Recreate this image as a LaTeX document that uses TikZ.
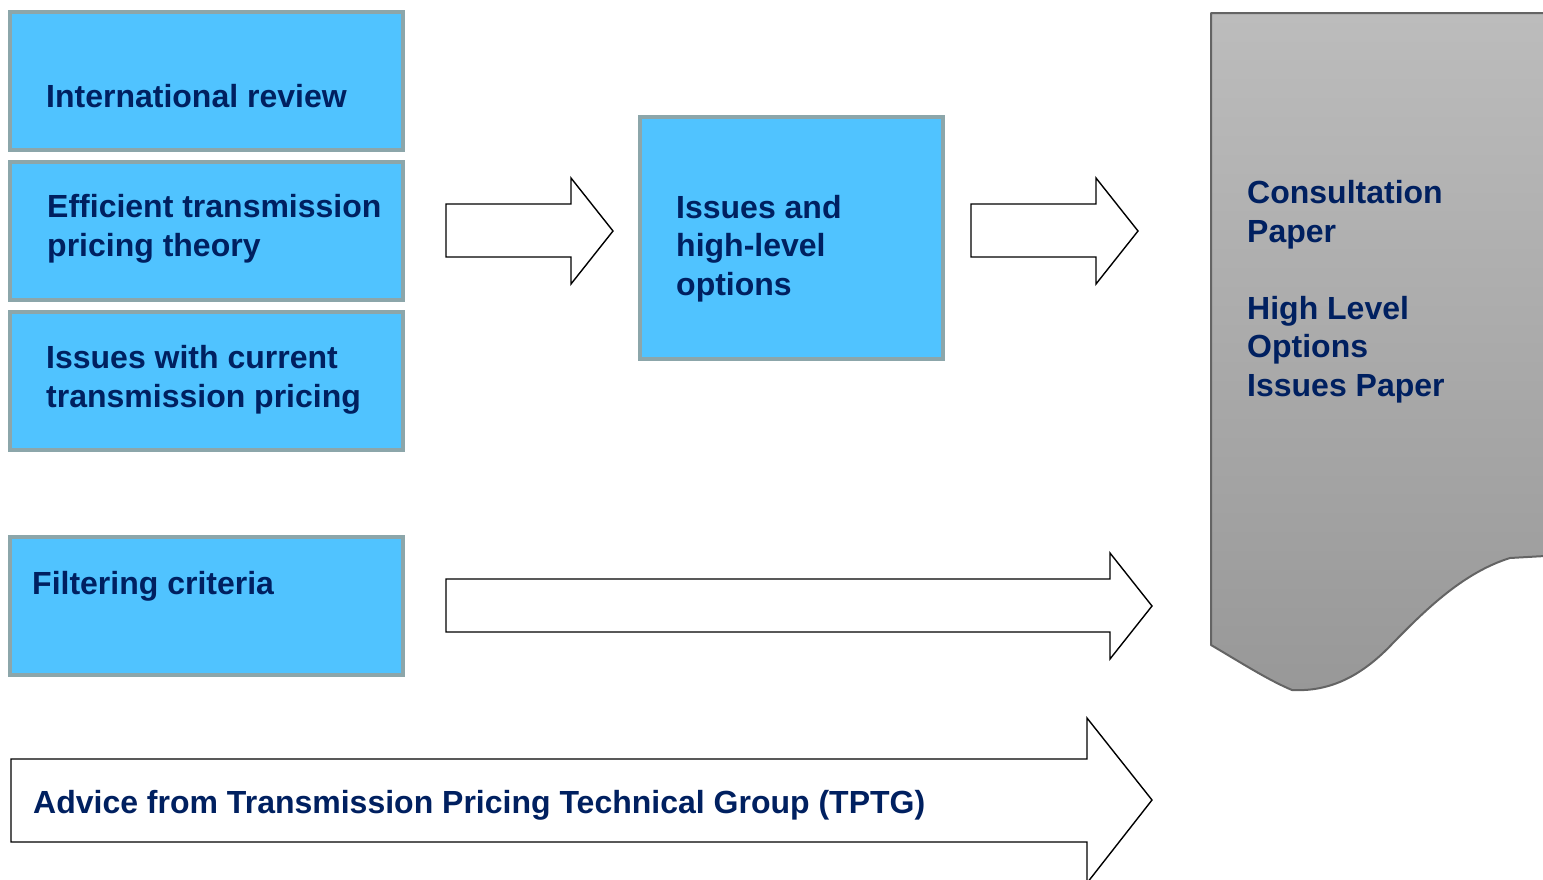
\documentclass[tikz,border=0pt]{standalone}
\usepackage{fontspec}
\setmainfont{Liberation Sans}
\definecolor{boxfill}{RGB}{80,195,255}
\definecolor{boxline}{RGB}{140,166,170}
\definecolor{navy}{RGB}{0,32,96}
\definecolor{doctop}{RGB}{188,188,188}
\definecolor{docbot}{RGB}{152,152,152}
\definecolor{docline}{RGB}{100,100,100}
\begin{document}
\begin{tikzpicture}[x=1pt,y=-1pt,
  bluebox/.style={draw=boxline,fill=boxfill,line width=4pt},
  lbl/.style={anchor=base west,inner sep=0pt,align=left,text=navy,
    font=\fontsize{32}{38.5}\selectfont\bfseries},
  blockarrow/.style={draw=black,fill=white,line width=1.4pt,line join=miter}]
\useasboundingbox (0,0) rectangle (1543,879);
% left boxes
\draw[bluebox] (10,12) rectangle (403,150);
\draw[bluebox] (10,162) rectangle (403,300);
\draw[bluebox] (10,312) rectangle (403,450);
\draw[bluebox] (10,537) rectangle (403,675);
\draw[bluebox] (640,117) rectangle (943,359);
% labels (base anchor = baseline of last line)
\node[lbl] (intl) at (46,107) {International review};
\node[lbl] (eff) at (47,256) {Efficient transmission\\pricing theory};
\node[lbl] (iss) at (46,407) {Issues with current\\transmission pricing};
\node[lbl] (filt) at (32,594) {Filtering criteria};
\node[lbl] (mid) at (676,295) {Issues and\\high-level\\options};
% block arrows
\draw[blockarrow] (446,204) -- (571,204) -- (571,178) -- (613,231) -- (571,284) -- (571,257) -- (446,257) -- cycle;
\draw[blockarrow] (971,204) -- (1096,204) -- (1096,178) -- (1138,231) -- (1096,284) -- (1096,257) -- (971,257) -- cycle;
\draw[blockarrow] (446,579) -- (1110,579) -- (1110,553) -- (1152,606) -- (1110,659) -- (1110,632) -- (446,632) -- cycle;
\draw[blockarrow] (11,759) -- (1087,759) -- (1087,718) -- (1152,800) -- (1087,883) -- (1087,842) -- (11,842) -- cycle;
\node[lbl] (tptg) at (33,813) {Advice from Transmission Pricing Technical Group (TPTG)};
% document shape
\shade[top color=doctop,bottom color=docbot]
  (1545,13) -- (1211,13) -- (1211,645)
  .. controls (1240,662) and (1268,680) .. (1292,690)
  .. controls (1330,692) and (1362,676) .. (1393,643)
  .. controls (1428,607) and (1465,572) .. (1510,558)
  -- (1545,556) -- cycle;
\draw[docline,line width=2pt,line join=round]
  (1545,13) -- (1211,13) -- (1211,645)
  .. controls (1240,662) and (1268,680) .. (1292,690)
  .. controls (1330,692) and (1362,676) .. (1393,643)
  .. controls (1428,607) and (1465,572) .. (1510,558)
  -- (1545,556);
\node[lbl] (doc) at (1247,396) {Consultation\\Paper\\[38.5pt]High Level\\Options\\Issues Paper};
\end{tikzpicture}
\end{document}
